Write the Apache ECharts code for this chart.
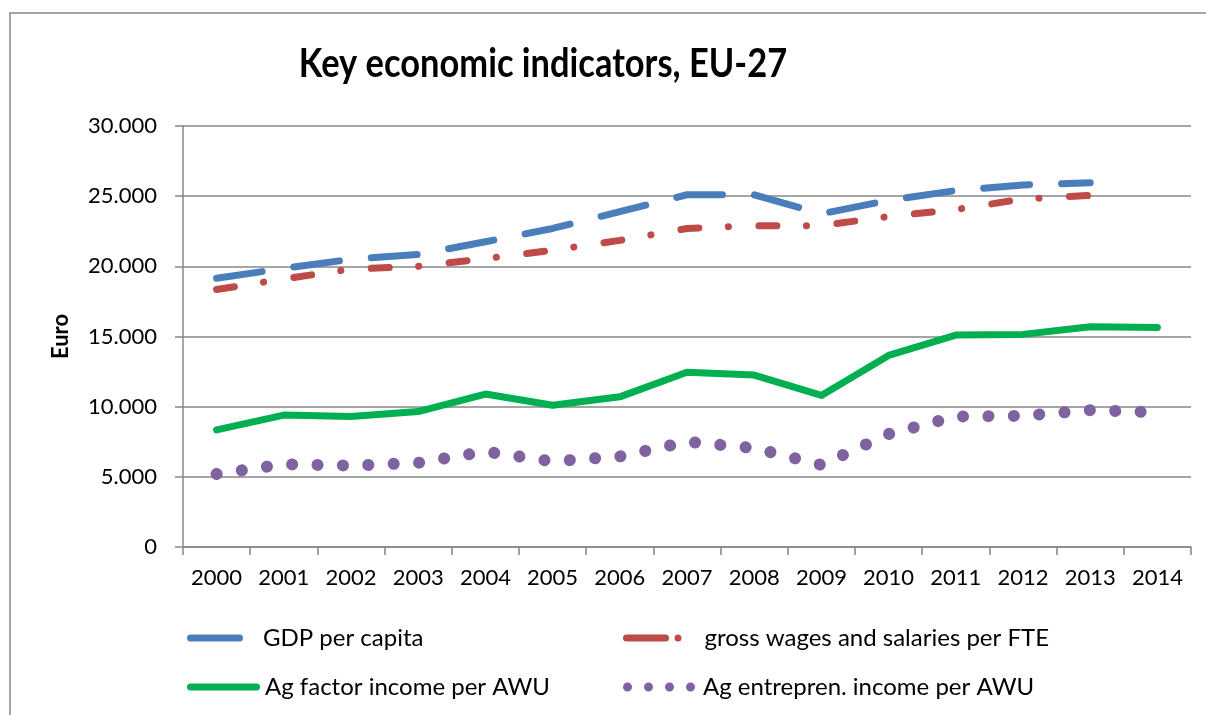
<!DOCTYPE html>
<html>
<head>
<meta charset="utf-8">
<title>Key economic indicators, EU-27</title>
<script src="https://cdn.jsdelivr.net/npm/echarts@6/dist/echarts.min.js"></script>
<style>
  html, body { margin: 0; padding: 0; background: #ffffff; }
  #chart { width: 1206px; height: 715px; }
</style>
</head>
<body>
<div id="chart"></div>
<script>
// Years on the category axis
const years = ['2000', '2001', '2002', '2003', '2004', '2005', '2006', '2007',
               '2008', '2009', '2010', '2011', '2012', '2013', '2014'];

// Euro values per year (null = not available)
const gdpPerCapita = [19150, 19850, 20500, 20850, 21750, 22700, 23900, 25100,
                      25100, 23750, 24700, 25400, 25800, 25950, null];
const grossWagesPerFte = [18350, 19100, 19800, 20000, 20550, 21150, 21850, 22700,
                          22900, 22900, 23550, 24050, 24800, 25050, null];
const agFactorIncomePerAwu = [8350, 9400, 9300, 9650, 10900, 10100, 10700, 12450,
                              12250, 10800, 13650, 15100, 15150, 15700, 15650];
const agEntreprenIncomePerAwu = [5200, 5900, 5800, 6000, 6800, 6100, 6450, 7500,
                                 7050, 5850, 8050, 9300, 9350, 9750, 9600];

// Value axis ticks
const yMin = 0, yMax = 30000, yStep = 5000;

const titleText = 'Key economic indicators, EU-27';
const seriesNames = ['GDP per capita', 'gross wages and salaries per FTE',
                     'Ag factor income per AWU', 'Ag entrepren. income per AWU'];
const colors = ['#4a7ebb', '#be4b48', '#00b050', '#7f63a1'];

const FONT = 'Lato, "Open Sans", "Liberation Sans", sans-serif';
const AXIS_GREY = '#878787';

function euroFmt(v) {
  return String(v).replace(/\B(?=(\d{3})+(?!\d))/g, '.');
}

// Legend key shapes
const keyIcons = [
  'path://M3.5,0 H52.5 A3.5,3.5 0 0 1 52.5,7 H3.5 A3.5,3.5 0 0 1 3.5,0 Z',
  'path://M3.5,0 H42.5 A3.5,3.5 0 0 1 42.5,7 H3.5 A3.5,3.5 0 0 1 3.5,0 Z M55,0 A3.5,3.5 0 1 1 55,7 A3.5,3.5 0 1 1 55,0 Z',
  'path://M3.5,0 H69.5 A3.5,3.5 0 0 1 69.5,7 H3.5 A3.5,3.5 0 0 1 3.5,0 Z',
  'path://M4.5,0 A4.5,4.5 0 1 1 4.5,9 A4.5,4.5 0 1 1 4.5,0 Z M25.5,0 A4.5,4.5 0 1 1 25.5,9 A4.5,4.5 0 1 1 25.5,0 Z M46.5,0 A4.5,4.5 0 1 1 46.5,9 A4.5,4.5 0 1 1 46.5,0 Z M67.5,0 A4.5,4.5 0 1 1 67.5,9 A4.5,4.5 0 1 1 67.5,0 Z'
];
const keyBoxes = [
  { left: 187, top: 625, w: 56, h: 7, pad: 15 },
  { left: 623, top: 625, w: 58.5, h: 7, pad: 18 },
  { left: 187, top: 674, w: 73, h: 7, pad: 0 },
  { left: 623, top: 674, w: 72, h: 9, pad: 3 }
];

const legends = seriesNames.map((name, i) => ({
  data: [{ name: name, icon: keyIcons[i] }],
  left: keyBoxes[i].left,
  top: keyBoxes[i].top,
  orient: 'horizontal',
  padding: 0,
  itemWidth: keyBoxes[i].w,
  itemHeight: keyBoxes[i].h,
  selectedMode: false,
  itemStyle: { color: colors[i], borderWidth: 0 },
  textStyle: {
    color: '#000', fontFamily: FONT, fontSize: 24, lineHeight: 26,
    padding: [0, 0, 0, keyBoxes[i].pad]
  }
}));

const lineStyles = [
  { width: 7, type: [46, 32], cap: 'round', join: 'round' },
  { width: 7, type: [18, 29.5, 0.1, 30.5], cap: 'round', join: 'round' },
  { width: 7, type: 'solid', cap: 'round', join: 'round' },
  { width: 12, type: [0.1, 25.3], cap: 'round', join: 'round' }
];
const seriesData = [gdpPerCapita, grossWagesPerFte, agFactorIncomePerAwu, agEntreprenIncomePerAwu];

const chart = echarts.init(document.getElementById('chart'), null, { renderer: 'canvas' });
chart.setOption({
  animation: false,
  backgroundColor: '#ffffff',
  graphic: [
    {
      type: 'rect', z: -10, silent: true,
      shape: { x: 10, y: 13, width: 1300, height: 800 },
      style: { fill: 'none', stroke: AXIS_GREY, lineWidth: 1.5 }
    },
    {
      // chart title, set slightly condensed
      type: 'text', silent: true,
      x: 543, y: 43, scaleX: 0.84,
      style: {
        text: titleText, x: 0, y: 0,
        textAlign: 'center', textVerticalAlign: 'top',
        fontFamily: FONT, fontWeight: 'bold', fontSize: 41, fill: '#000'
      }
    }
  ],
  legend: legends,
  grid: { left: 183, right: 15, top: 126, bottom: 168, containLabel: false },
  xAxis: {
    type: 'category',
    data: years,
    boundaryGap: true,
    axisLine: { show: true, lineStyle: { color: AXIS_GREY, width: 1.5 } },
    axisTick: { show: true, length: 8, inside: false, lineStyle: { color: AXIS_GREY, width: 1.5 } },
    axisLabel: { color: '#000', fontFamily: FONT, fontSize: 22, margin: 20, interval: 0 },
    splitLine: { show: false }
  },
  yAxis: {
    type: 'value',
    min: yMin, max: yMax, interval: yStep,
    name: 'Euro',
    nameLocation: 'middle',
    nameRotate: 90,
    nameGap: 111,
    nameTextStyle: { fontFamily: FONT, fontWeight: 'bold', fontSize: 22, color: '#000' },
    axisLine: { show: true, lineStyle: { color: AXIS_GREY, width: 1.5 } },
    axisTick: { show: true, length: 8, inside: false, lineStyle: { color: AXIS_GREY, width: 1.5 } },
    axisLabel: { color: '#000', fontFamily: FONT, fontSize: 22, margin: 26, formatter: euroFmt },
    splitLine: { show: true, lineStyle: { color: AXIS_GREY, width: 1.5 } }
  },
  series: seriesNames.map((name, i) => ({
    name: name,
    type: 'line',
    data: seriesData[i],
    symbol: 'none',
    showSymbol: false,
    color: colors[i],
    itemStyle: { color: colors[i] },
    lineStyle: Object.assign({ color: colors[i] }, lineStyles[i]),
    emphasis: { disabled: true },
    z: 2 + i
  }))
});
</script>
</body>
</html>
